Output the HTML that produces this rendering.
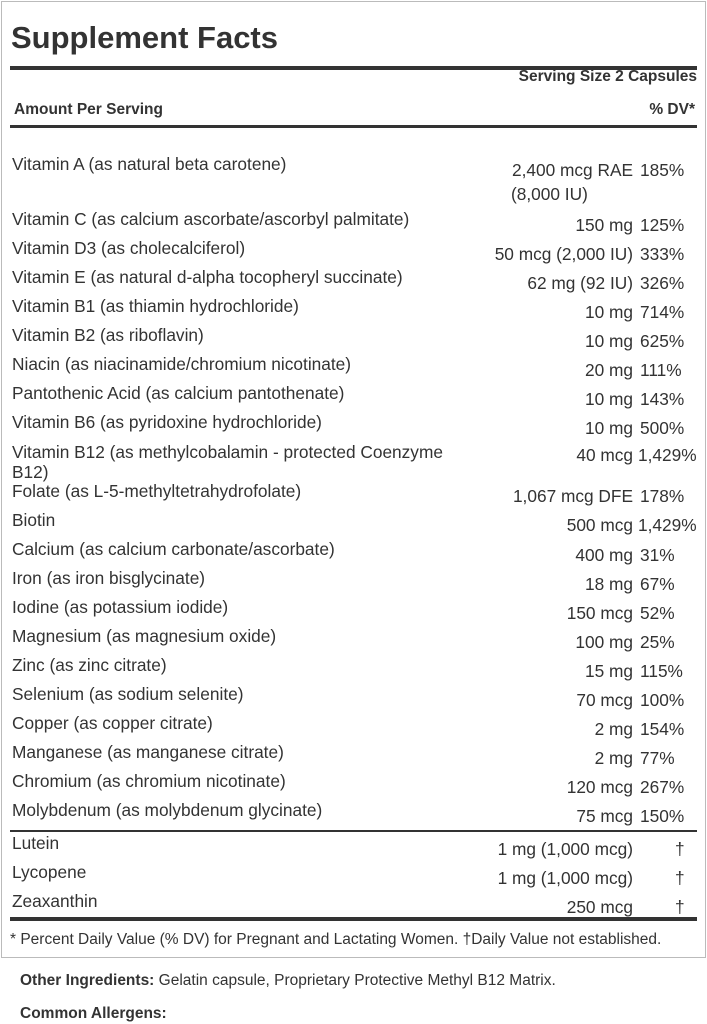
<!DOCTYPE html>
<html><head><meta charset="utf-8"><style>
body{margin:0;width:707px;height:1024px;background:#fff;font-family:"Liberation Sans",Arial,sans-serif;color:#333;position:relative;overflow:hidden}
.box{position:absolute;left:1px;top:1px;width:703px;height:955px;border:1px solid #bbb}
.t{position:absolute;white-space:nowrap;font-size:17.3px;line-height:18px}
.l{left:12px}
.a{right:74px;text-align:right}
.d{left:640px}
.hr{position:absolute;left:10px;width:687px;background:#333}
b{font-weight:bold}
</style></head><body>
<div class="box"></div>
<div class="t" style="left:11px;top:20px;font-size:31px;line-height:36px;font-weight:bold">Supplement Facts</div>
<div class="hr" style="top:66px;height:4px"></div>
<div class="t" style="right:10px;top:68px;font-size:15.5px;font-weight:bold">Serving Size 2 Capsules</div>
<div class="t" style="left:14px;top:101px;font-size:15.5px;font-weight:bold">Amount Per Serving</div>
<div class="t" style="right:12px;top:101px;font-size:15.5px;font-weight:bold">% DV*</div>
<div class="hr" style="top:125px;height:3px"></div>

<div class="t l" style="top:155px">Vitamin A (as natural beta carotene)</div>
<div class="t a" style="top:161px">2,400 mcg RAE</div><div class="t d" style="top:161px">185%</div>
<div class="t" style="left:511px;top:185px">(8,000 IU)</div>

<div class="t l" style="top:210px">Vitamin C (as calcium ascorbate/ascorbyl palmitate)</div>
<div class="t a" style="top:216px">150 mg</div><div class="t d" style="top:216px">125%</div>
<div class="t l" style="top:239px">Vitamin D3 (as cholecalciferol)</div>
<div class="t a" style="top:245px">50 mcg (2,000 IU)</div><div class="t d" style="top:245px">333%</div>
<div class="t l" style="top:268px">Vitamin E (as natural d-alpha tocopheryl succinate)</div>
<div class="t a" style="top:274px">62 mg (92 IU)</div><div class="t d" style="top:274px">326%</div>
<div class="t l" style="top:297px">Vitamin B1 (as thiamin hydrochloride)</div>
<div class="t a" style="top:303px">10 mg</div><div class="t d" style="top:303px">714%</div>
<div class="t l" style="top:326px">Vitamin B2 (as riboflavin)</div>
<div class="t a" style="top:332px">10 mg</div><div class="t d" style="top:332px">625%</div>
<div class="t l" style="top:355px">Niacin (as niacinamide/chromium nicotinate)</div>
<div class="t a" style="top:361px">20 mg</div><div class="t d" style="top:361px">111%</div>
<div class="t l" style="top:384px">Pantothenic Acid (as calcium pantothenate)</div>
<div class="t a" style="top:390px">10 mg</div><div class="t d" style="top:390px">143%</div>
<div class="t l" style="top:413px">Vitamin B6 (as pyridoxine hydrochloride)</div>
<div class="t a" style="top:419px">10 mg</div><div class="t d" style="top:419px">500%</div>
<div class="t l" style="top:442px;line-height:20px">Vitamin B12 (as methylcobalamin - protected Coenzyme<br>B12)</div>
<div class="t a" style="top:446px">40 mcg</div><div class="t" style="left:638px;top:446px">1,429%</div>
<div class="t l" style="top:482px">Folate (as L-5-methyltetrahydrofolate)</div>
<div class="t a" style="top:487px">1,067 mcg DFE</div><div class="t d" style="top:487px">178%</div>
<div class="t l" style="top:511px">Biotin</div>
<div class="t a" style="top:516px">500 mcg</div><div class="t" style="left:638px;top:516px">1,429%</div>
<div class="t l" style="top:540px">Calcium (as calcium carbonate/ascorbate)</div>
<div class="t a" style="top:546px">400 mg</div><div class="t d" style="top:546px">31%</div>
<div class="t l" style="top:569px">Iron (as iron bisglycinate)</div>
<div class="t a" style="top:575px">18 mg</div><div class="t d" style="top:575px">67%</div>
<div class="t l" style="top:598px">Iodine (as potassium iodide)</div>
<div class="t a" style="top:604px">150 mcg</div><div class="t d" style="top:604px">52%</div>
<div class="t l" style="top:627px">Magnesium (as magnesium oxide)</div>
<div class="t a" style="top:633px">100 mg</div><div class="t d" style="top:633px">25%</div>
<div class="t l" style="top:656px">Zinc (as zinc citrate)</div>
<div class="t a" style="top:662px">15 mg</div><div class="t d" style="top:662px">115%</div>
<div class="t l" style="top:685px">Selenium (as sodium selenite)</div>
<div class="t a" style="top:691px">70 mcg</div><div class="t d" style="top:691px">100%</div>
<div class="t l" style="top:714px">Copper (as copper citrate)</div>
<div class="t a" style="top:720px">2 mg</div><div class="t d" style="top:720px">154%</div>
<div class="t l" style="top:743px">Manganese (as manganese citrate)</div>
<div class="t a" style="top:749px">2 mg</div><div class="t d" style="top:749px">77%</div>
<div class="t l" style="top:772px">Chromium (as chromium nicotinate)</div>
<div class="t a" style="top:778px">120 mcg</div><div class="t d" style="top:778px">267%</div>
<div class="t l" style="top:801px">Molybdenum (as molybdenum glycinate)</div>
<div class="t a" style="top:807px">75 mcg</div><div class="t d" style="top:807px">150%</div>
<div class="hr" style="top:830px;height:2px"></div>
<div class="t l" style="top:834px">Lutein</div>
<div class="t a" style="top:840px">1 mg (1,000 mcg)</div><div class="t" style="left:675px;top:840px">†</div>
<div class="t l" style="top:863px">Lycopene</div>
<div class="t a" style="top:869px">1 mg (1,000 mcg)</div><div class="t" style="left:675px;top:869px">†</div>
<div class="t l" style="top:892px">Zeaxanthin</div>
<div class="t a" style="top:898px">250 mcg</div><div class="t" style="left:675px;top:898px">†</div>
<div class="hr" style="top:917px;height:4px"></div>
<div class="t" style="left:10px;top:931px;font-size:15.5px">* Percent Daily Value (% DV) for Pregnant and Lactating Women. †Daily Value not established.</div>
<div class="t" style="left:20px;top:972px;font-size:15.5px"><b>Other Ingredients:</b> Gelatin capsule, Proprietary Protective Methyl B12 Matrix.</div>
<div class="t" style="left:20px;top:1005px;font-size:15.5px"><b>Common Allergens:</b></div>
</body></html>
